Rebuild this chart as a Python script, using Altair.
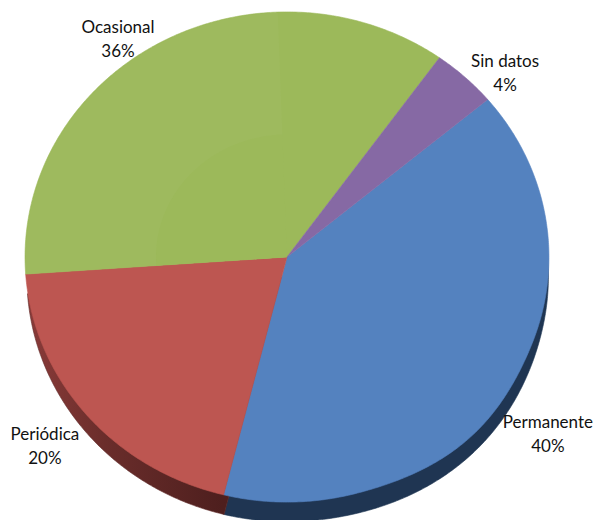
import numpy as np
import pandas as pd
import altair as alt

categories = ["Permanente", "Periódica", "Ocasional", "Sin datos"]
values = [40, 20, 36, 4]
colors = ["#5482BF", "#BD5651", "#9CB95A", "#8669A4"]
first_angle = 50.0
label_reach = [1.228, 1.203, 1.10, 1.122]
label_turn = [3.8, 0.2, -6.7, 5.1]
depth = 0.08

xdom = [-1.065, 1.172]
ydom = [-1.073, 1.016]
W, H = 586, 512


def wedge(start, end, drop=0.0, scale=1.0, xscale=1.0, bulge=None):
    n = max(int((end - start) * 2), 4)
    deg = np.linspace(start, end, n)
    r = np.full(n, scale)
    if bulge:
        b, lo, hi = bulge
        inside = (deg > lo) & (deg < hi)
        r[inside] *= 1 + b * np.sin(np.pi * (deg[inside] - lo) / (hi - lo)) ** 2
    a = np.radians(deg)
    xs = np.concatenate([[0], r * xscale * np.sin(a), [0]])
    ys = np.concatenate([[0], r * np.cos(a), [0]]) - drop
    return pd.DataFrame({"x": xs, "y": ys, "o": np.arange(len(xs))})


X = alt.X("x:Q", scale=alt.Scale(domain=xdom, nice=False, zero=False), axis=None)
Y = alt.Y("y:Q", scale=alt.Scale(domain=ydom, nice=False, zero=False), axis=None)


def shape(df, fill, sw=0.6):
    stroke = fill if isinstance(fill, str) else "#5f2a29"
    return (
        alt.Chart(df)
        .mark_line(fill=fill, stroke=stroke, strokeWidth=sw, interpolate="linear")
        .encode(x=X, y=Y, order="o:Q")
    )


red_side = alt.Gradient(
    gradient="linear", x1=0, y1=0, x2=1, y2=0,
    stops=[
        alt.GradientStop(color="#8A3B39", offset=0),
        alt.GradientStop(color="#6A2D2B", offset=0.3),
        alt.GradientStop(color="#4E1F1E", offset=0.75),
        alt.GradientStop(color="#4B1E1D", offset=1),
    ],
)

spans = []
a0 = first_angle
for v in values:
    a1 = a0 + v * 3.6
    spans.append((a0, a1))
    a0 = a1

layers = [
    shape(wedge(*spans[0], drop=depth, xscale=0.998, bulge=(0.012, 100, 175)), "#1F3552"),
    shape(wedge(*spans[1], drop=depth, xscale=0.993), red_side),
]
for i, ((s, e), c) in enumerate(zip(spans, colors)):
    layers.append(shape(wedge(s, e, bulge=(0.015, 110, 165) if i == 0 else None), c))

# faint lighter band on the green slice
green_start = spans[2][0]
layers.append(shape(wedge(green_start, 358, scale=0.997), "#9EBA5E", sw=0))
layers.append(shape(wedge(green_start, 358, scale=0.5), colors[2], sw=0))

rows = []
for (s, e), cat, v, r, t in zip(spans, categories, values, label_reach, label_turn):
    m = np.radians((s + e) / 2 + t)
    rows.append({"x": r * np.sin(m), "y": r * np.cos(m), "t": f"{cat}\n{v}%"})
labels = (
    alt.Chart(pd.DataFrame(rows))
    .mark_text(font="Lato", fontSize=17, lineBreak="\n", lineHeight=24, dy=-10.5, color="#111111", align="center", baseline="middle")
    .encode(x=X, y=Y, text="t:N")
)
layers.append(labels)

chart = (
    alt.layer(*layers)
    .properties(width=W, height=H, padding=0, autosize=alt.AutoSizeParams(type="none"))
    .configure_view(stroke=None)
)
chart.save("out.html", embed_options={"renderer": "svg", "actions": False})
